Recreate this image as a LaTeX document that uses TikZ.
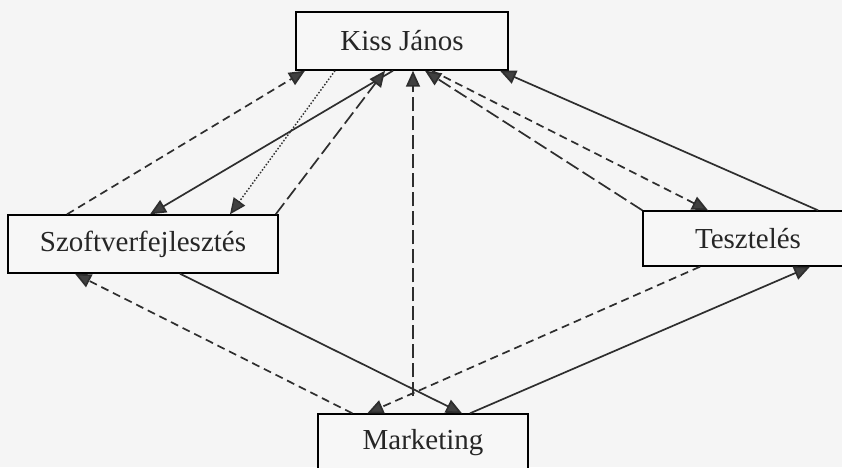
\documentclass[tikz,border=0pt]{standalone}
\usepackage{fontspec}
\setmainfont{Liberation Serif}
\usetikzlibrary{arrows.meta}
\tikzset{
  box/.style={draw,line width=1.4pt,inner sep=0pt,fill=white!97!black,
    text=black!85,font=\fontsize{29}{34}\selectfont},
  conn/.style={line width=1.7pt,draw=black!82,
    -{Triangle[width=14pt,length=16pt,fill=black!75]}},
  shortdash/.style={conn,dash pattern=on 8pt off 5pt},
  longdash/.style={conn,dash pattern=on 14pt off 5pt},
  dots/.style={conn,dash pattern=on 1.5pt off 1.8pt,line width=1.4pt},
}
\begin{document}
\begin{tikzpicture}[x=1pt,y=-1pt]
  \useasboundingbox (0,0) rectangle (842,467);
  \clip (0,0) rectangle (842,467);
  \fill[white!96!black] (0,0) rectangle (842,467);

  \node[box,minimum width=212pt,minimum height=58pt] (kiss) at (402,41) {Kiss János};
  \node[box,minimum width=270pt,minimum height=58pt] (szoft) at (143,244) {Szoftverfejlesztés};
  \node[box,minimum width=210pt,minimum height=55pt] (teszt) at (748,238.5) {Tesztelés};
  \node[box,minimum width=210pt,minimum height=58pt] (mark) at (423,443) {Marketing};

  % Kiss János <-> Szoftverfejlesztés
  \draw[shortdash] ([xshift=-76pt]szoft.north) -- ([xshift=-97pt]kiss.south);
  \draw[dots] ([xshift=-67pt]kiss.south) -- ([xshift=87pt]szoft.north);
  \draw[conn] ([xshift=-9pt]kiss.south) -- ([xshift=7pt]szoft.north);
  \draw[longdash] ([xshift=-3pt]szoft.north east) -- ([xshift=-17pt]kiss.south);

  % Marketing -> Kiss János
  \draw[longdash] ([xshift=-10pt,yshift=17pt]mark.north) -- ([xshift=11pt]kiss.south);

  % Kiss János <-> Tesztelés
  \draw[longdash] (teszt.north west) -- ([xshift=23pt]kiss.south);
  \draw[shortdash] ([xshift=30pt]kiss.south) -- ([xshift=-40pt]teszt.north);
  \draw[conn] ([xshift=70pt]teszt.north) -- ([xshift=98pt]kiss.south);

  % Marketing
  \draw[shortdash] ([xshift=35pt]mark.north west) -- ([xshift=-68pt]szoft.south);
  \draw[shortdash] ([xshift=-48pt]teszt.south) -- ([xshift=50pt]mark.north west);
  \draw[conn] ([xshift=37pt]szoft.south) -- ([xshift=39pt]mark.north);
  \draw[conn] ([xshift=47pt]mark.north) -- ([xshift=62pt]teszt.south);
\end{tikzpicture}
\end{document}
